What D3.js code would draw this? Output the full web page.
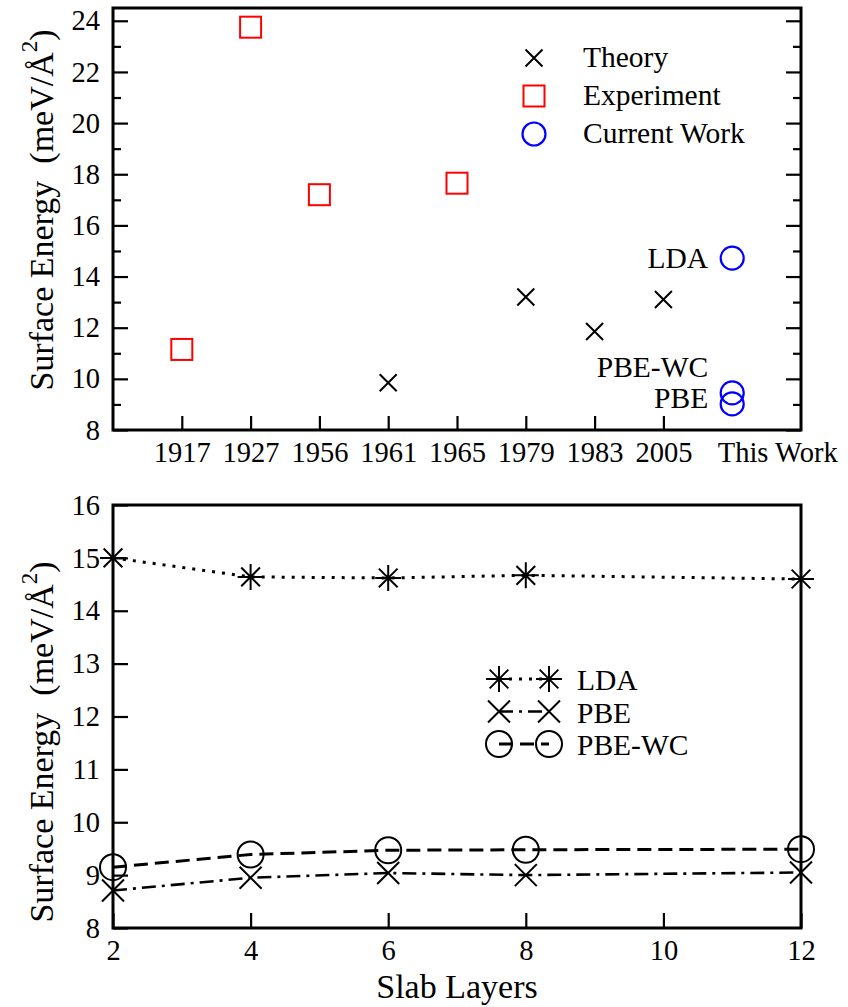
<!DOCTYPE html>
<html>
<head>
<meta charset="utf-8">
<script src="https://cdn.jsdelivr.net/npm/d3@7"></script>
<style>
  html, body { margin: 0; padding: 0; background: #fff; }
  svg { display: block; }
  text { font-family: "Liberation Serif", "Times New Roman", serif; fill: #000; }
</style>
</head>
<body>
<svg id="chart" width="848" height="1007"></svg>
<script>
// ---------- Top panel data ----------
const topCategories = ["1917", "1927", "1956", "1961", "1965", "1979", "1983", "2005", "This Work"];
const experimentYears = ["1917", "1927", "1956", "1965"];
const experimentValues = [11.15, 23.75, 17.2, 17.65];
const theoryYears = ["1961", "1979", "1983", "2005"];
const theoryValues = [9.85, 13.2, 11.85, 13.1];
const currentLabels = ["LDA", "PBE-WC", "PBE"];
const currentValues = [14.72, 9.45, 9.02];
const topYTicks = [8, 10, 12, 14, 16, 18, 20, 22, 24];
const topYMinorTicks = [9, 11, 13, 15, 17, 19, 21, 23];
const topLegend = ["Theory", "Experiment", "Current Work"];

// ---------- Bottom panel data ----------
const slabLayers = [2, 4, 6, 8, 12];
const ldaValues = [15.0, 14.64, 14.62, 14.67, 14.6];
const pbeValues = [8.71, 8.95, 9.04, 9.0, 9.05];
const pbewcValues = [9.15, 9.39, 9.47, 9.48, 9.49];
const bottomXTicks = [2, 4, 6, 8, 10, 12];
const bottomYTicks = [8, 9, 10, 11, 12, 13, 14, 15, 16];
const bottomLegend = ["LDA", "PBE", "PBE-WC"];

const svg = d3.select("#chart");
const FONT_TICK = 28.5, FONT_LEG = 29.5, FONT_AXIS = 34;

function crossPath(s) { return `M${-s},${-s}L${s},${s}M${-s},${s}L${s},${-s}`; }
function starPath(s) {
  const d = s * 0.72;
  return `M${-s},0L${s},0M0,${-s}L0,${s}M${-d},${-d}L${d},${d}M${-d},${d}L${d},${-d}`;
}

function styleAxis(g) {
  g.select(".domain").remove();
  g.selectAll("line").attr("stroke", "#000").attr("stroke-width", 2.2);
  g.attr("font-family", null).attr("font-size", null);
  g.selectAll("text").attr("font-size", FONT_TICK).attr("fill", "#000")
    .style("font-family", '"Liberation Serif", "Times New Roman", serif');
}

function yLabel(cx, cy) {
  const t = svg.append("text")
    .attr("transform", `translate(${cx},${cy}) rotate(-90)`)
    .attr("text-anchor", "middle")
    .attr("font-size", FONT_AXIS);
  t.append("tspan").text("Surface Energy\u00a0\u00a0(meV/Å");
  t.append("tspan").attr("font-size", 23).attr("dy", "-0.7em").text("2");
  t.append("tspan").attr("dy", "0.47em").text(")");
}

// ================= TOP PANEL =================
const tx = d3.scaleLinear().domain([0, 10]).range([113, 801]);
const ty = d3.scaleLinear().domain([8, 24.5]).range([430, 8]);
const topG = svg.append("g");

topG.append("g").attr("transform", `translate(${tx(0)},0)`)
  .call(d3.axisLeft(ty).tickValues(topYTicks).tickSize(-15).tickPadding(13).tickFormat(d3.format("d")))
  .call(styleAxis);
topG.append("g").attr("transform", `translate(${tx(0)},0)`)
  .call(d3.axisLeft(ty).tickValues(topYMinorTicks).tickSize(-8).tickFormat(""))
  .call(styleAxis);
topG.append("g").attr("transform", `translate(${tx(10)},0)`)
  .call(d3.axisRight(ty).tickValues(topYTicks).tickSize(-15).tickFormat(""))
  .call(styleAxis);
topG.append("g").attr("transform", `translate(${tx(10)},0)`)
  .call(d3.axisRight(ty).tickValues(topYMinorTicks).tickSize(-8).tickFormat(""))
  .call(styleAxis);
const txAxis = topG.append("g").attr("transform", `translate(0,${ty(8)})`)
  .call(d3.axisBottom(tx).tickValues(d3.range(1, topCategories.length + 1))
    .tickSize(-14).tickPadding(12).tickFormat(i => topCategories[i - 1]))
  .call(styleAxis);
txAxis.selectAll(".tick").filter(i => i === topCategories.length).each(function () {
  d3.select(this).select("line").remove();
  d3.select(this).select("text").attr("x", 45);
});

topG.append("rect").attr("x", tx(0)).attr("y", ty(24.5))
  .attr("width", tx(10) - tx(0)).attr("height", ty(8) - ty(24.5))
  .attr("fill", "none").attr("stroke", "#000").attr("stroke-width", 3);

const catX = c => tx(topCategories.indexOf(c) + 1);

topG.selectAll(".exp").data(experimentYears).join("rect")
  .attr("x", (d) => catX(d) - 10.5)
  .attr("y", (d, i) => ty(experimentValues[i]) - 10.5)
  .attr("width", 21).attr("height", 21)
  .attr("fill", "none").attr("stroke", "#ff0000").attr("stroke-width", 2);

topG.selectAll(".theo").data(theoryYears).join("path")
  .attr("transform", (d, i) => `translate(${catX(d)},${ty(theoryValues[i])})`)
  .attr("d", crossPath(8.5))
  .attr("fill", "none").attr("stroke", "#000").attr("stroke-width", 2);

const thisX = catX("This Work");
topG.selectAll(".cur").data(currentLabels).join("circle")
  .attr("cx", thisX).attr("cy", (d, i) => ty(currentValues[i]))
  .attr("r", 11.5).attr("fill", "none").attr("stroke", "#0000ff").attr("stroke-width", 2.2);

const annY = { "LDA": ty(currentValues[0]) + 10, "PBE-WC": ty(currentValues[1]) - 16, "PBE": ty(currentValues[2]) + 4 };
topG.selectAll(".ann").data(currentLabels).join("text")
  .attr("x", thisX - 24).attr("y", d => annY[d])
  .attr("text-anchor", "end").attr("font-size", FONT_LEG).text(d => d);

const legX = 534, legTextX = 583, legY0 = 67, legDY = 38;
topLegend.forEach((name, i) => {
  const cy = legY0 + i * legDY - 9;
  if (i === 0) topG.append("path").attr("transform", `translate(${legX},${cy})`).attr("d", crossPath(8.5))
    .attr("fill", "none").attr("stroke", "#000").attr("stroke-width", 2);
  if (i === 1) topG.append("rect").attr("x", legX - 10.5).attr("y", cy - 10.5).attr("width", 21).attr("height", 21)
    .attr("fill", "none").attr("stroke", "#ff0000").attr("stroke-width", 2);
  if (i === 2) topG.append("circle").attr("cx", legX).attr("cy", cy).attr("r", 11.5)
    .attr("fill", "none").attr("stroke", "#0000ff").attr("stroke-width", 2.2);
  topG.append("text").attr("x", legTextX).attr("y", legY0 + i * legDY).attr("font-size", FONT_LEG).text(name);
});

yLabel(53, 210);

// ================= BOTTOM PANEL =================
const bx = d3.scaleLinear().domain([2, 12]).range([113, 801]);
const by = d3.scaleLinear().domain([8, 16]).range([928, 505]);
const bot = svg.append("g");

bot.append("g").attr("transform", `translate(${bx(2)},0)`)
  .call(d3.axisLeft(by).tickValues(bottomYTicks).tickSize(-15).tickPadding(13).tickFormat(d3.format("d")))
  .call(styleAxis);
bot.append("g").attr("transform", `translate(0,${by(8)})`)
  .call(d3.axisBottom(bx).tickValues(bottomXTicks).tickSize(-15).tickPadding(12).tickFormat(d3.format("d")))
  .call(styleAxis);

bot.append("rect").attr("x", bx(2)).attr("y", by(16))
  .attr("width", bx(12) - bx(2)).attr("height", by(8) - by(16))
  .attr("fill", "none").attr("stroke", "#000").attr("stroke-width", 3);

const series = [
  { name: "LDA", values: ldaValues, dash: "3,7", width: 3, marker: "star" },
  { name: "PBE", values: pbeValues, dash: "14,6,3,6", width: 2.6, marker: "cross" },
  { name: "PBE-WC", values: pbewcValues, dash: "14,7", width: 3, marker: "circle" }
];
const line = d3.line().x(d => bx(d[0])).y(d => by(d[1]));

function drawMarker(g, kind, x, y) {
  if (kind === "circle") g.append("circle").attr("cx", x).attr("cy", y).attr("r", 13)
    .attr("fill", "none").attr("stroke", "#000").attr("stroke-width", 2);
  else g.append("path").attr("transform", `translate(${x},${y})`)
    .attr("d", kind === "star" ? starPath(13) : crossPath(11))
    .attr("fill", "none").attr("stroke", "#000").attr("stroke-width", 2);
}

series.forEach(s => {
  const pts = slabLayers.map((l, i) => [l, s.values[i]]);
  bot.append("path").attr("d", line(pts)).attr("fill", "none")
    .attr("stroke", "#000").attr("stroke-width", s.width).attr("stroke-dasharray", s.dash);
  pts.forEach(p => drawMarker(bot, s.marker, bx(p[0]), by(p[1])));
});

const bLegX0 = 499, bLegX1 = 549, bLegTextX = 577, bLegY0 = 690, bLegDY = 32.5;
bottomLegend.forEach((name, i) => {
  const s = series.find(d => d.name === name);
  const cy = bLegY0 + i * bLegDY - 11;
  bot.append("path").attr("d", `M${bLegX0},${cy}L${bLegX1},${cy}`).attr("fill", "none")
    .attr("stroke", "#000").attr("stroke-width", s.width).attr("stroke-dasharray", s.dash);
  drawMarker(bot, s.marker, bLegX0, cy);
  drawMarker(bot, s.marker, bLegX1, cy);
  bot.append("text").attr("x", bLegTextX).attr("y", bLegY0 + i * bLegDY).attr("font-size", FONT_LEG).text(name);
});

yLabel(53, 742);

svg.append("text").attr("x", (bx(2) + bx(12)) / 2).attr("y", 998)
  .attr("text-anchor", "middle").attr("font-size", FONT_AXIS).text("Slab Layers");
</script>
</body>
</html>
